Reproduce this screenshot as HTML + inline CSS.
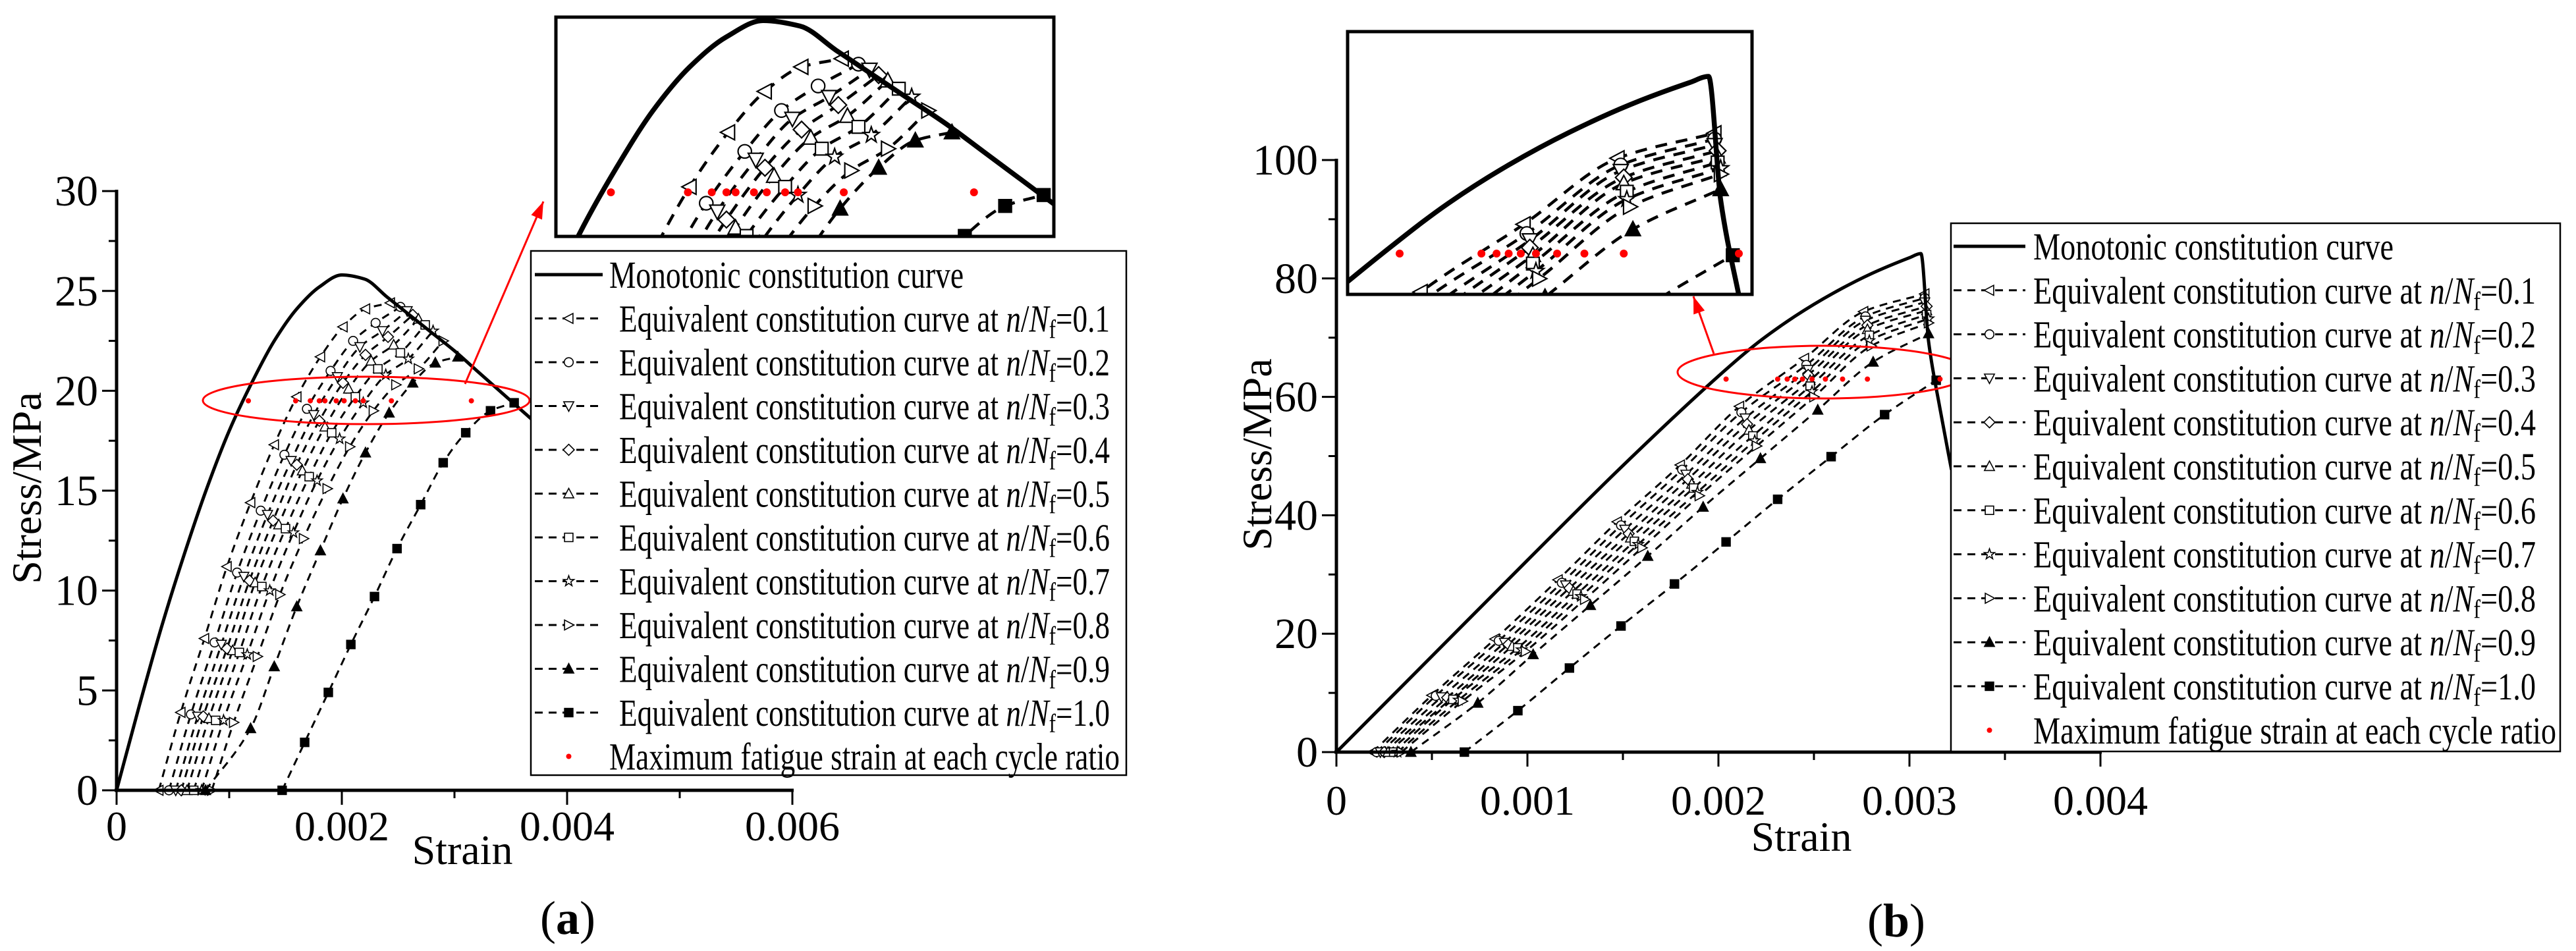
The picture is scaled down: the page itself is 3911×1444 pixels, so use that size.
<!DOCTYPE html>
<html><head><meta charset="utf-8"><style>
html,body{margin:0;padding:0;background:#fff;}
svg{display:block;}
text{font-family:"Liberation Serif",serif;fill:#000;}
</style></head>
<body>
<svg id="fig" width="3911" height="1444" viewBox="0 0 3911 1444" xmlns="http://www.w3.org/2000/svg">
<defs>
<clipPath id="clipA"><rect x="844" y="26" width="756" height="333"/></clipPath>
<clipPath id="clipB"><rect x="2046" y="48" width="614" height="399"/></clipPath>
</defs>
</svg>
<script>
// ---------- Panel (a) data ----------
const aMonoStrain = [0,0.0002,0.0004,0.0006,0.0008,0.001,0.0012,0.0014,0.0016,0.0018,0.002,0.0022,0.0024,0.0026,0.0028,0.003,0.0032,0.0034,0.0036,0.00368];
const aMonoStress = [0,4.2,8.2,11.8,15.1,18.0,20.4,22.5,24.1,25.2,25.8,25.6,24.7,23.8,22.9,22.0,21.0,20.0,19.0,18.6];
const aEq01Strain = [0.000375,0.00057,0.00078,0.00098,0.00119,0.0014,0.0016,0.00181,0.00201,0.00221,0.00243];
const aEq01Stress = [0,3.9,7.6,11.2,14.4,17.3,19.7,21.7,23.2,24.1,24.4];
const aEq02Strain = [0.000465,0.00066,0.00087,0.00107,0.00128,0.00149,0.00169,0.0019,0.0021,0.0023,0.00252];
const aEq02Stress = [0,3.8,7.4,10.9,14.0,16.8,19.1,21.0,22.5,23.4,24.2];
const aEq03Strain = [0.000525,0.00072,0.00093,0.00113,0.00134,0.00155,0.00175,0.00196,0.00216,0.00236,0.00258];
const aEq03Stress = [0,3.7,7.3,10.7,13.8,16.5,18.8,20.7,22.2,23.0,24.0];
const aEq04Strain = [0.000575,0.00077,0.00098,0.00118,0.00139,0.0016,0.0018,0.00201,0.00221,0.00241,0.00263];
const aEq04Stress = [0,3.7,7.1,10.5,13.5,16.3,18.5,20.4,21.8,22.7,23.8];
const aEq05Strain = [0.000625,0.00082,0.00103,0.00123,0.00144,0.00165,0.00185,0.00206,0.00226,0.00246,0.00268];
const aEq05Stress = [0,3.6,7.0,10.4,13.3,16.0,18.2,20.1,21.5,22.3,23.6];
const aEq06Strain = [0.000685,0.00088,0.00109,0.00129,0.0015,0.00171,0.00191,0.00212,0.00232,0.00252,0.00274];
const aEq06Stress = [0,3.5,6.9,10.2,13.1,15.7,17.9,19.7,21.1,21.9,23.3];
const aEq07Strain = [0.000755,0.00095,0.00116,0.00136,0.00157,0.00178,0.00198,0.00219,0.00239,0.00259,0.00281];
const aEq07Stress = [0,3.5,6.8,10.0,12.9,15.5,17.6,19.4,20.8,21.6,23.0];
const aEq08Strain = [0.000845,0.00104,0.00125,0.00145,0.00166,0.00187,0.00207,0.00228,0.00248,0.00268,0.0029];
const aEq08Stress = [0,3.4,6.7,9.8,12.6,15.1,17.2,19.0,20.3,21.1,22.5];
const aEq09Strain = [0.00079,0.00119,0.0014,0.0016,0.00181,0.00201,0.00221,0.00242,0.00263,0.00283,0.00303];
const aEq09Stress = [0,3.1,6.2,9.2,12.0,14.6,16.9,18.9,20.4,21.4,21.7];
const aEq10Strain = [0.00147,0.00167,0.00188,0.00208,0.00229,0.00249,0.0027,0.0029,0.0031,0.00332,0.00353];
const aEq10Stress = [0,2.4,4.9,7.3,9.7,12.1,14.3,16.4,17.9,19.0,19.4];
const aDotStrain = [0.00117,0.00159,0.00172,0.0018,0.00185,0.00195,0.00202,0.00212,0.00219,0.00244,0.00315];
const aDotStress = [19.5,19.5,19.5,19.5,19.5,19.5,19.5,19.5,19.5,19.5,19.5];
const aXTicks = [0,0.002,0.004,0.006];
const aXTickLabels = ["0","0.002","0.004","0.006"];
const aYTicks = [0,5,10,15,20,25,30];
const aYTickLabels = ["0","5","10","15","20","25","30"];

// ---------- Panel (b) data ----------
const bMonoStrain = [0,0.0005,0.001,0.0015,0.002,0.0022,0.0024,0.0026,0.0028,0.003,0.00306,0.0031,0.00316,0.00322];
const bMonoStress = [0,16.2,32.4,48.4,63.5,69,73.6,77.5,80.8,83.5,84.2,69.4,58,47.7];
const bEq01Strain = [0.00019,0.0005,0.00083,0.00116,0.00147,0.0018,0.00211,0.00245,0.00276,0.00308];
const bEq01Stress = [0,9.6,19.1,29.1,38.9,48.5,58.4,66.5,74.4,77.4];
const bEq02Strain = [0.00021,0.00052,0.00085,0.00118,0.00149,0.00181,0.00212,0.00246,0.00277,0.00308];
const bEq02Stress = [0,9.5,18.8,28.6,38.3,47.7,57.4,65.4,73.6,76.7];
const bEq03Strain = [0.00023,0.00055,0.00088,0.0012,0.00151,0.00183,0.00214,0.00247,0.00277,0.00308];
const bEq03Stress = [0,9.3,18.5,28.2,37.6,46.9,56.4,64.6,72.9,76.0];
const bEq04Strain = [0.00025,0.00058,0.0009,0.00122,0.00153,0.00184,0.00215,0.00247,0.00278,0.00309];
const bEq04Stress = [0,9.2,18.2,27.7,36.9,46.1,55.4,63.7,72.1,75.3];
const bEq05Strain = [0.00027,0.0006,0.00092,0.00124,0.00154,0.00186,0.00216,0.00248,0.00278,0.00309];
const bEq05Stress = [0,9.0,17.9,27.2,36.2,45.3,54.4,62.8,71.4,74.6];
const bEq06Strain = [0.0003,0.00061,0.00095,0.00126,0.00156,0.00187,0.00218,0.00248,0.00279,0.00309];
const bEq06Stress = [0,8.9,17.6,26.7,35.6,44.6,53.4,61.8,70.4,73.9];
const bEq07Strain = [0.00032,0.00064,0.00097,0.00128,0.00158,0.00189,0.00219,0.00249,0.00279,0.0031];
const bEq07Stress = [0,8.8,17.3,26.3,35.1,43.9,52.6,60.9,69.5,73.2];
const bEq08Strain = [0.00034,0.00066,0.00099,0.0013,0.0016,0.0019,0.0022,0.0025,0.0028,0.0031];
const bEq08Stress = [0,8.6,17.0,25.8,34.5,43.3,51.7,60.0,68.6,72.5];
const bEq09Strain = [0.00039,0.00074,0.00103,0.00133,0.00163,0.00192,0.00222,0.00252,0.00281,0.0031];
const bEq09Stress = [0,8.3,16.5,24.8,33.1,41.4,49.6,57.8,65.9,70.7];
const bEq10Strain = [0.00067,0.00095,0.00122,0.00149,0.00177,0.00204,0.00231,0.00259,0.00287,0.00314];
const bEq10Stress = [0,7.0,14.2,21.3,28.4,35.5,42.7,49.9,57.0,62.8];
const bDotStrain = [0.00204,0.00231,0.00236,0.0024,0.00244,0.00249,0.00256,0.00265,0.00278,0.00316];
const bDotStress = [63,63,63,63,63,63,63,63,63,63];
const bXTicks = [0,0.001,0.002,0.003,0.004];
const bXTickLabels = ["0","0.001","0.002","0.003","0.004"];
const bYTicks = [0,20,40,60,80,100];
const bYTickLabels = ["0","20","40","60","80","100"];

const legendLabels = ["0.1","0.2","0.3","0.4","0.5","0.6","0.7","0.8","0.9","1.0"];
const markerTypes = ["tl","circle","td","diamond","tu","square","star","tr","tuf","squaref"];

const NS = "http://www.w3.org/2000/svg";
const svg = document.getElementById("fig");
function mk(parent, tag, attrs){
  const e = document.createElementNS(NS, tag);
  for (const k in attrs) e.setAttribute(k, attrs[k]);
  parent.appendChild(e);
  return e;
}
const ax = s => 177 + s*171000, ay = v => 1200 - v*30.33;
const iax = s => 927.5 + 278409*(s-0.00117), iay = v => 292 - (v-19.5)*41.4;
const bx = s => 2029 + s*290000, by = v => 1142 - v*8.99;
const ibx = s => 2125 + 459821*(s-0.00204), iby = v => 385 - (v-63)*12.69;

// monotone cubic (Fritsch-Carlson) path in screen space, x increasing
function smoothPath(xs, ys, fx, fy){
  const X = xs.map(fx), Y = ys.map(v=>fy(v)), n = X.length;
  const d = [], m = new Array(n);
  for (let i=0;i<n-1;i++) d.push((Y[i+1]-Y[i])/(X[i+1]-X[i]));
  m[0] = d[0]; m[n-1] = d[n-2];
  for (let i=1;i<n-1;i++){
    if (d[i-1]*d[i] <= 0) m[i] = 0;
    else { m[i] = 2/(1/d[i-1] + 1/d[i]); }
  }
  let p = "M" + X[0].toFixed(1) + "," + Y[0].toFixed(1);
  for (let i=0;i<n-1;i++){
    const h = (X[i+1]-X[i])/3;
    p += " C" + (X[i]+h).toFixed(1)+","+(Y[i]+m[i]*h).toFixed(1)+" "+(X[i+1]-h).toFixed(1)+","+(Y[i+1]-m[i+1]*h).toFixed(1)+" "+X[i+1].toFixed(1)+","+Y[i+1].toFixed(1);
  }
  return p;
}
function markerShape(parent, type, x, y, r){
  let e;
  const fill = (type==="tuf"||type==="squaref") ? "#000" : "#fff";
  const st = {fill: fill, stroke:"#000", "stroke-width": Math.max(1.6, r*0.18)};
  const poly = pts => mk(parent, "polygon", Object.assign({points: pts.map(p=>(x+p[0]*r).toFixed(1)+","+(y+p[1]*r).toFixed(1)).join(" ")}, st));
  if (type==="circle") e = mk(parent, "circle", Object.assign({cx:x, cy:y, r:r*0.85}, st));
  else if (type==="square"||type==="squaref") e = mk(parent, "rect", Object.assign({x:x-r*0.8, y:y-r*0.8, width:r*1.6, height:r*1.6}, st));
  else if (type==="tl") e = poly([[-1,0],[0.8,-0.95],[0.8,0.95]]);
  else if (type==="tr") e = poly([[1,0],[-0.8,-0.95],[-0.8,0.95]]);
  else if (type==="td") e = poly([[0,1],[-0.95,-0.8],[0.95,-0.8]]);
  else if (type==="tu"||type==="tuf") e = poly([[0,-1],[-0.95,0.8],[0.95,0.8]]);
  else if (type==="diamond") e = poly([[0,-1.05],[1.05,0],[0,1.05],[-1.05,0]]);
  else if (type==="star"){
    const pts=[]; for(let k=0;k<10;k++){const a=-Math.PI/2+k*Math.PI/5; const rr=k%2?0.42:1.05; pts.push([rr*Math.cos(a), rr*Math.sin(a)]);}
    e = poly(pts);
  }
  return e;
}
function txt(parent, x, y, s, size, anchor, extra){
  const t = mk(parent, "text", Object.assign({x:x, y:y, "font-size":size, "text-anchor":anchor||"start"}, extra||{}));
  t.textContent = s;
  return t;
}

function drawPanel(cfg){
  const g = mk(svg, "g", {});
  
  
  function drawSeries(layer, fx, fy, scale){
    cfg.eq.forEach((ser, i)=>{
      const p = mk(layer, "path", {d: smoothPath(ser[0], ser[1], fx, fy), fill:"none", stroke:"#000", "stroke-width": 3*scale, "stroke-dasharray": (12*scale)+","+(9*scale)});
      
      
      ser[0].forEach((s, j)=>{
        const m = markerShape(layer, markerTypes[i], fx(s), fy(ser[1][j]), 8*scale);
        
        
      });
    });
    const mono = mk(layer, "path", {d: smoothPath(cfg.mono[0], cfg.mono[1], fx, fy), fill:"none", stroke:"#000", "stroke-width": 5*scale});
    
    
    cfg.dots[0].forEach((s, j)=>{
      const d = mk(layer, "circle", {cx: fx(s), cy: fy(cfg.dots[1][j]), r: 4*scale, fill:"#f00"});
      
      
    });
  }
  const main = mk(g, "g", {});
  
  
  drawSeries(main, cfg.fx, cfg.fy, 1);

  const x0 = cfg.fx(0), y0 = cfg.fy(0);
  const xEnd = cfg.fx(cfg.xTicks[cfg.xTicks.length-1]), yEnd = cfg.fy(cfg.yTicks[cfg.yTicks.length-1]);
  const xa = mk(g, "line", {x1:x0-3, y1:y0, x2:xEnd+2, y2:y0, stroke:"#000", "stroke-width":5});
  
  
  const ya = mk(g, "line", {x1:x0, y1:y0+2, x2:x0, y2:yEnd-2, stroke:"#000", "stroke-width":5});
  
  
  cfg.xTicks.forEach((v,i)=>{
    const X = cfg.fx(v);
    const t = mk(g, "line", {x1:X, y1:y0, x2:X, y2:y0+22, stroke:"#000", "stroke-width":3});
    
    
    const l = txt(g, X, cfg.xLabY, cfg.xLabels[i], 64, "middle");
    
    
    if (i < cfg.xTicks.length-1){
      const Xm = cfg.fx((v + cfg.xTicks[i+1])/2);
      const tm = mk(g, "line", {x1:Xm, y1:y0, x2:Xm, y2:y0+12, stroke:"#000", "stroke-width":3});
      
      
    }
  });
  cfg.yTicks.forEach((v,i)=>{
    const Y = cfg.fy(v);
    const t = mk(g, "line", {x1:x0-22, y1:Y, x2:x0, y2:Y, stroke:"#000", "stroke-width":3});
    
    
    const l = txt(g, x0-28, Y+22, cfg.yLabels[i], 66, "end");
    
    
    if (i < cfg.yTicks.length-1){
      const Ym = cfg.fy((v + cfg.yTicks[i+1])/2);
      const tm = mk(g, "line", {x1:x0-12, y1:Ym, x2:x0, y2:Ym, stroke:"#000", "stroke-width":3});
      
      
    }
  });
  const xt = txt(g, cfg.xTitle[0], cfg.xTitle[1], "Strain", 64, "middle");
  
  
  const yt = txt(g, 0, 0, "Stress/MPa", 64, "middle", {transform:"translate("+cfg.yTitle[0]+","+cfg.yTitle[1]+") rotate(-90)"});
  
  

  const el = mk(g, "ellipse", {cx:cfg.ell[0], cy:cfg.ell[1], rx:cfg.ell[2], ry:cfg.ell[3], fill:"none", stroke:"#f00", "stroke-width":3});
  
  
  const a = cfg.arrow;
  const ar = mk(g, "line", {x1:a[0], y1:a[1], x2:a[2], y2:a[3], stroke:"#f00", "stroke-width":3});
  
  
  const ang = Math.atan2(a[3]-a[1], a[2]-a[0]);
  const hx = a[2], hy = a[3], L=26, W=9;
  const pts = [[hx,hy],[hx-L*Math.cos(ang)+W*Math.sin(ang), hy-L*Math.sin(ang)-W*Math.cos(ang)],[hx-L*Math.cos(ang)-W*Math.sin(ang), hy-L*Math.sin(ang)+W*Math.cos(ang)]];
  const ah = mk(g, "polygon", {points: pts.map(p=>p.join(",")).join(" "), fill:"#f00"});
  
  

  const ib = cfg.inset;
  const ig = mk(g, "g", {});
  
  
  mk(ig, "rect", {x:ib[0], y:ib[1], width:ib[2], height:ib[3], fill:"#fff"});
  const clipped = mk(ig, "g", {"clip-path":"url(#"+cfg.clip+")"});
  drawSeries(clipped, cfg.ifx, cfg.ify, 1.5);
  const frame = mk(ig, "rect", {x:ib[0], y:ib[1], width:ib[2], height:ib[3], fill:"none", stroke:"#000", "stroke-width":5});
  
  

  const lg = mk(g, "g", {});
  
  
  const L0 = cfg.legend;
  mk(lg, "rect", {x:L0.x, y:L0.y, width:L0.w, height:L0.h, fill:"#fff", stroke:"#000", "stroke-width":2.5});
  for (let r=0;r<12;r++){
    const cy = L0.row0 + r*L0.dy;
    const ent = mk(lg, "g", {});
    
    
    if (r===0){
      mk(ent, "line", {x1:L0.lx1, y1:cy, x2:L0.lx2, y2:cy, stroke:"#000", "stroke-width":5});
      txt(ent, L0.tx0, cy+20, "Monotonic constitution curve", 58, "start", {textLength:L0.w0, lengthAdjust:"spacingAndGlyphs"});
    } else if (r===11){
      mk(ent, "circle", {cx:(L0.lx1+L0.lx2)/2, cy:cy, r:4, fill:"#f00"});
      txt(ent, L0.tx0, cy+20, "Maximum fatigue strain at each cycle ratio", 58, "start", {textLength:L0.w2, lengthAdjust:"spacingAndGlyphs"});
    } else {
      mk(ent, "line", {x1:L0.lx1, y1:cy, x2:L0.lx2, y2:cy, stroke:"#000", "stroke-width":3, "stroke-dasharray":"12,9"});
      markerShape(ent, markerTypes[r-1], (L0.lx1+L0.lx2)/2, cy, 8);
      const t = mk(ent, "text", {x:L0.tx1, y:cy+20, "font-size":58, textLength:L0.w1, lengthAdjust:"spacingAndGlyphs"});
      const s1 = mk(t, "tspan", {}); s1.textContent = "Equivalent constitution curve at ";
      const s2 = mk(t, "tspan", {"font-style":"italic"}); s2.textContent = "n";
      const s3 = mk(t, "tspan", {}); s3.textContent = "/";
      const s4 = mk(t, "tspan", {"font-style":"italic"}); s4.textContent = "N";
      const s5 = mk(t, "tspan", {"font-size":40, dy:10}); s5.textContent = "f";
      const s6 = mk(t, "tspan", {dy:-10}); s6.textContent = "=" + legendLabels[r-1];
    }
  }
  const pl = mk(g, "text", {x:cfg.plab[0], y:cfg.plab[1], "font-size":72, "text-anchor":"middle"});
  
  
  const p1 = mk(pl, "tspan", {}); p1.textContent = "(";
  const p2 = mk(pl, "tspan", {"font-weight":"bold"}); p2.textContent = cfg.letter;
  const p3 = mk(pl, "tspan", {}); p3.textContent = ")";
}

drawPanel({
  name:"panel-a", letter:"a", fx:ax, fy:ay, ifx:iax, ify:iay, clip:"clipA",
  mono:[aMonoStrain,aMonoStress],
  eq:[[aEq01Strain,aEq01Stress],[aEq02Strain,aEq02Stress],[aEq03Strain,aEq03Stress],[aEq04Strain,aEq04Stress],[aEq05Strain,aEq05Stress],[aEq06Strain,aEq06Stress],[aEq07Strain,aEq07Stress],[aEq08Strain,aEq08Stress],[aEq09Strain,aEq09Stress],[aEq10Strain,aEq10Stress]],
  dots:[aDotStrain,aDotStress],
  xTicks:aXTicks, xLabels:aXTickLabels, yTicks:aYTicks, yLabels:aYTickLabels,
  xLabY:1276, xTitle:[702,1312], yTitle:[62,741],
  ell:[556,608,248,36], arrow:[706,583,825,306],
  inset:[844,26,756,333],
  legend:{x:806,y:381,w:904,h:796,row0:417,dy:66.5,lx1:812,lx2:915,tx0:925,tx1:940,w0:538,w1:745,w2:775},
  plab:[862,1418]
});
drawPanel({
  name:"panel-b", letter:"b", fx:bx, fy:by, ifx:ibx, ify:iby, clip:"clipB",
  mono:[bMonoStrain,bMonoStress],
  eq:[[bEq01Strain,bEq01Stress],[bEq02Strain,bEq02Stress],[bEq03Strain,bEq03Stress],[bEq04Strain,bEq04Stress],[bEq05Strain,bEq05Stress],[bEq06Strain,bEq06Stress],[bEq07Strain,bEq07Stress],[bEq08Strain,bEq08Stress],[bEq09Strain,bEq09Stress],[bEq10Strain,bEq10Stress]],
  dots:[bDotStrain,bDotStress],
  xTicks:bXTicks, xLabels:bXTickLabels, yTicks:bYTicks, yLabels:bYTickLabels,
  xLabY:1237, xTitle:[2735,1292], yTitle:[1930,690],
  ell:[2769,565,222,40], arrow:[2602,537,2571,450],
  inset:[2046,48,614,399],
  legend:{x:2962,y:339,w:925,h:802,row0:374,dy:66.8,lx1:2966,lx2:3075,tx0:3087,tx1:3087,w0:547,w1:763,w2:794},
  plab:[2879,1422]
});
</script>
</body></html>
